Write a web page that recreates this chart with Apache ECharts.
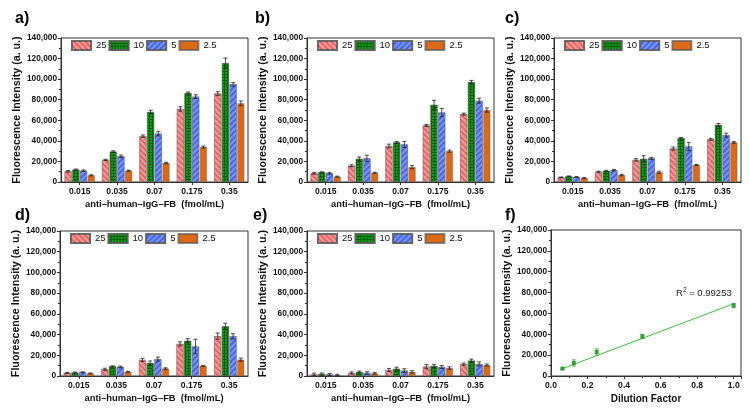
<!DOCTYPE html>
<html>
<head>
<meta charset="utf-8">
<script src="https://cdn.jsdelivr.net/npm/echarts@6/dist/echarts.min.js"></script>
<style>
html,body{margin:0;padding:0;background:#fff;}
#chart{width:749px;height:414px;}
</style>
</head>
<body>
<div id="chart"></div>
<script>
// ---------- data ----------
const categories = ['0.015', '0.035', '0.07', '0.175', '0.35'];
const seriesNames = ['25', '10', '5', '2.5'];

const valuesA = [
  [10500, 21500, 44500, 71000, 86000],
  [12000, 29500, 68000, 86500, 115500],
  [11000, 25000, 47000, 83000, 95000],
  [6500, 11000, 18500, 34000, 76500]
];
const errorsA = [
  [800, 600, 1200, 2200, 1800],
  [600, 800, 1800, 1000, 5000],
  [700, 1200, 2200, 1800, 1800],
  [500, 500, 700, 1000, 2300]
];
const valuesB = [
  [8400, 15800, 35000, 55000, 66000],
  [9400, 22500, 38500, 75000, 97000],
  [8500, 23000, 36500, 67500, 79000],
  [5200, 9000, 14500, 30000, 70000]
];
const errorsB = [
  [800, 900, 1800, 1000, 1000],
  [500, 1800, 1000, 4500, 1800],
  [900, 3000, 3000, 4000, 2500],
  [500, 500, 1500, 1000, 2000]
];
const valuesC = [
  [4500, 10000, 21500, 32500, 41500],
  [5500, 10800, 22500, 42500, 55500],
  [4800, 11500, 23000, 34500, 45500],
  [3800, 6800, 9500, 16500, 38500]
];
const errorsC = [
  [400, 500, 1200, 1500, 1000],
  [400, 500, 3000, 800, 1500],
  [400, 700, 1000, 4000, 2000],
  [400, 700, 1000, 500, 800]
];
const valuesD = [
  [3000, 6500, 15500, 31000, 38500],
  [3300, 9300, 12500, 34000, 48000],
  [3600, 8800, 16300, 28500, 38300],
  [2500, 4000, 7200, 9800, 15800]
];
const errorsD = [
  [500, 1000, 1500, 2000, 3000],
  [500, 500, 2000, 2000, 3000],
  [400, 800, 2000, 7000, 2500],
  [400, 300, 700, 500, 1500]
];
const valuesE = [
  [1500, 2900, 5800, 9000, 11500],
  [1900, 3800, 7000, 9700, 14800],
  [1500, 2900, 5200, 8700, 11600],
  [1000, 2500, 3900, 7700, 10600]
];
const errorsE = [
  [1200, 1000, 1500, 2000, 1000],
  [1000, 1000, 1500, 1500, 1500],
  [1000, 1200, 1800, 1500, 2000],
  [700, 800, 1200, 1200, 1000]
];

const dilution = [0.0625, 0.125, 0.25, 0.5, 1.0];
const intensityF = [7100, 12500, 23000, 38000, 67500];
const errorsF = [800, 3000, 3000, 2000, 2000];
const fitX = [0.0625, 1.0];
const fitY = [7100, 69300];
const r2Text = '0.99253';

// ---------- style ----------
const FONT = 'Liberation Sans, Arial, sans-serif';
const AXIS_COLOR = '#333';
const BAR_W = 7;
const BAR_GAP = 0.1;
const barStyles = [
  { color: '#EE6262', decal: { symbol: 'rect', symbolSize: 1, dashArrayX: [1, 0], dashArrayY: [1.5, 1.5], rotation: Math.PI / 4, color: 'rgba(255,195,195,0.6)' } },
  { color: '#086408', decal: { symbol: 'rect', symbolSize: 1, dashArrayX: [2, 1], dashArrayY: [2, 1], rotation: 0, color: '#179a17' } },
  { color: '#4466EE', decal: { symbol: 'rect', symbolSize: 1, dashArrayX: [1, 0], dashArrayY: [1.5, 1.5], rotation: -Math.PI / 4, color: 'rgba(160,180,255,0.6)' } },
  { color: '#DB6915', decal: null }
];

const panels = [
  { label: 'a)', values: valuesA, errors: errorsA, grid: { left: 61, top: 38, width: 187, height: 144 }, labelPos: [15, 11] },
  { label: 'b)', values: valuesB, errors: errorsB, grid: { left: 307, top: 38, width: 187, height: 144 }, labelPos: [255, 11] },
  { label: 'c)', values: valuesC, errors: errorsC, grid: { left: 554, top: 38, width: 187, height: 144 }, labelPos: [505, 11] },
  { label: 'd)', values: valuesD, errors: errorsD, grid: { left: 60, top: 231, width: 188, height: 145 }, labelPos: [15, 208] },
  { label: 'e)', values: valuesE, errors: errorsE, grid: { left: 307, top: 231, width: 187, height: 145 }, labelPos: [253, 208] }
];
const gridF = { left: 551, top: 230, width: 190, height: 146 };
const labelPosF = [505, 208];

const fmt = v => Math.round(v).toLocaleString('en-US');

function yAxisDef(idx) {
  return {
    type: 'value', gridIndex: idx, min: 0, max: 140000, interval: 20000,
    name: 'Fluorescence Intensity (a. u.)', nameLocation: 'middle', nameGap: 38,
    nameTextStyle: { fontFamily: FONT, fontWeight: 'bold', fontSize: 10.7, color: '#111' },
    axisLine: { show: true, lineStyle: { color: AXIS_COLOR, width: 1 } },
    axisTick: { show: true, inside: false, length: 3, lineStyle: { color: AXIS_COLOR } },
    minorTick: { show: true, splitNumber: 2, length: 2, lineStyle: { color: AXIS_COLOR } },
    splitLine: { show: false },
    axisLabel: { fontFamily: FONT, fontWeight: 'bold', fontSize: 8.3, color: '#111', margin: 4, formatter: fmt }
  };
}

function renderErr(color, capHalf, lw) {
  return function (params, api) {
    const cat = api.value(0), s = api.value(1), v = api.value(2), e = api.value(3);
    const top = api.coord([cat, v + e]);
    const bot = api.coord([cat, v - e]);
    const off = s < 0 ? 0 : (s - 1.5) * (BAR_W * (1 + BAR_GAP));
    const x = top[0] + off;
    const st = { stroke: color, lineWidth: lw };
    return {
      type: 'group',
      children: [
        { type: 'line', shape: { x1: x, y1: top[1], x2: x, y2: bot[1] }, style: st },
        { type: 'line', shape: { x1: x - capHalf, y1: top[1], x2: x + capHalf, y2: top[1] }, style: st },
        { type: 'line', shape: { x1: x - capHalf, y1: bot[1], x2: x + capHalf, y2: bot[1] }, style: st }
      ]
    };
  };
}

const grids = [], xAxes = [], yAxes = [], series = [], legends = [], graphics = [];

panels.forEach((p, i) => {
  grids.push(Object.assign({ show: true, borderColor: AXIS_COLOR, borderWidth: 1, backgroundColor: 'transparent', containLabel: false, outerBoundsMode: 'none' }, p.grid));
  xAxes.push({
    type: 'category', gridIndex: i, data: categories,
    name: 'anti\u2013human\u2013IgG\u2013FB  (fmol/mL)', nameLocation: 'middle', nameGap: 18,
    nameTextStyle: { fontFamily: FONT, fontWeight: 'bold', fontSize: 9.4, color: '#111' },
    axisLine: { show: true, lineStyle: { color: AXIS_COLOR, width: 1 } },
    axisTick: { show: true, alignWithLabel: true, length: 3, lineStyle: { color: AXIS_COLOR } },
    axisLabel: { fontFamily: FONT, fontWeight: 'bold', fontSize: 8.6, color: '#111', margin: 5 },
    splitLine: { show: false }
  });
  yAxes.push(yAxisDef(i));
  const errData = [];
  seriesNames.forEach((name, s) => {
    series.push({
      type: 'bar', name: name, xAxisIndex: i, yAxisIndex: i,
      data: p.values[s], barWidth: BAR_W, barGap: (BAR_GAP * 100) + '%',
      itemStyle: { color: barStyles[s].color, decal: barStyles[s].decal, borderColor: 'rgba(90,90,90,0.7)', borderWidth: 0.5 },
      emphasis: { disabled: true }, silent: true, animation: false, z: 2
    });
    p.values[s].forEach((v, c) => errData.push([c, s, v, p.errors[s][c]]));
  });
  series.push({
    type: 'custom', name: 'err' + i, xAxisIndex: i, yAxisIndex: i,
    renderItem: renderErr('#222', 2, 0.8), data: errData,
    encode: { x: 0, y: 2 }, silent: true, animation: false, z: 5
  });
  legends.push({
    data: seriesNames, left: p.grid.left + 10, top: p.grid.top + 2,
    orient: 'horizontal', icon: 'rect', itemWidth: 19, itemHeight: 9, itemGap: 2, padding: 0,
    selectedMode: false,
    textStyle: { fontFamily: FONT, fontSize: 9.5, color: '#111' }
  });
  graphics.push({ type: 'text', left: p.labelPos[0], top: p.labelPos[1], style: { text: p.label, font: 'bold 16px ' + FONT, fill: '#000' } });
});

// panel f
const fi = panels.length;
grids.push(Object.assign({ show: true, borderColor: AXIS_COLOR, borderWidth: 1, backgroundColor: 'transparent', containLabel: false, outerBoundsMode: 'none' }, gridF));
xAxes.push({
  type: 'value', gridIndex: fi, min: 0, max: 1.04, interval: 0.2,
  name: 'Dilution Factor', nameLocation: 'middle', nameGap: 18,
  nameTextStyle: { fontFamily: FONT, fontWeight: 'bold', fontSize: 10, color: '#111' },
  axisLine: { show: true, lineStyle: { color: AXIS_COLOR, width: 1 } },
  axisTick: { show: true, length: 3, lineStyle: { color: AXIS_COLOR } },
  minorTick: { show: true, splitNumber: 2, length: 2, lineStyle: { color: AXIS_COLOR } },
  splitLine: { show: false },
  axisLabel: { fontFamily: FONT, fontWeight: 'bold', fontSize: 8.6, color: '#111', margin: 5, showMaxLabel: false, formatter: v => v.toFixed(1) }
});
yAxes.push(yAxisDef(fi));
series.push({
  type: 'line', name: 'fit', xAxisIndex: fi, yAxisIndex: fi,
  data: fitX.map((x, k) => [x, fitY[k]]), showSymbol: false, symbol: 'none',
  lineStyle: { color: '#3DC03D', width: 1 }, silent: true, animation: false, z: 2
});
series.push({
  type: 'custom', name: 'errF', xAxisIndex: fi, yAxisIndex: fi,
  renderItem: renderErr('#36B836', 2, 0.9),
  data: dilution.map((x, k) => [x, -1, intensityF[k], errorsF[k]]),
  encode: { x: 0, y: 2 }, silent: true, animation: false, z: 3
});
series.push({
  type: 'scatter', name: 'points', xAxisIndex: fi, yAxisIndex: fi,
  data: dilution.map((x, k) => [x, intensityF[k]]),
  symbol: 'rect', symbolSize: 4, itemStyle: { color: '#1C8C1C' }, silent: true, animation: false, z: 4
});
graphics.push({ type: 'text', left: labelPosF[0], top: labelPosF[1], style: { text: 'f)', font: 'bold 16px ' + FONT, fill: '#000' } });

const chart = echarts.init(document.getElementById('chart'), null, { renderer: 'canvas' });
chart.setOption({
  backgroundColor: '#fff',
  animation: false,
  grid: grids, xAxis: xAxes, yAxis: yAxes, series: series, legend: legends,
  graphic: graphics
});
// R² annotation placed at a data position in panel f
const r2Pos = chart.convertToPixel({ gridIndex: fi }, [1.0, 79500]);
chart.setOption({
  graphic: graphics.concat([{
    type: 'text', x: r2Pos[0] - 2, y: r2Pos[1],
    style: {
      text: '{n|R}{s|2}{n| = ' + r2Text + '}', align: 'right', verticalAlign: 'middle',
      rich: { n: { fontFamily: FONT, fontSize: 9.5, fill: '#222', color: '#222' }, s: { fontFamily: FONT, fontSize: 6.5, color: '#222', fill: '#222', verticalAlign: 'top', padding: [0, 0, 6, 0] } }
    }
  }])
});
</script>
</body>
</html>
